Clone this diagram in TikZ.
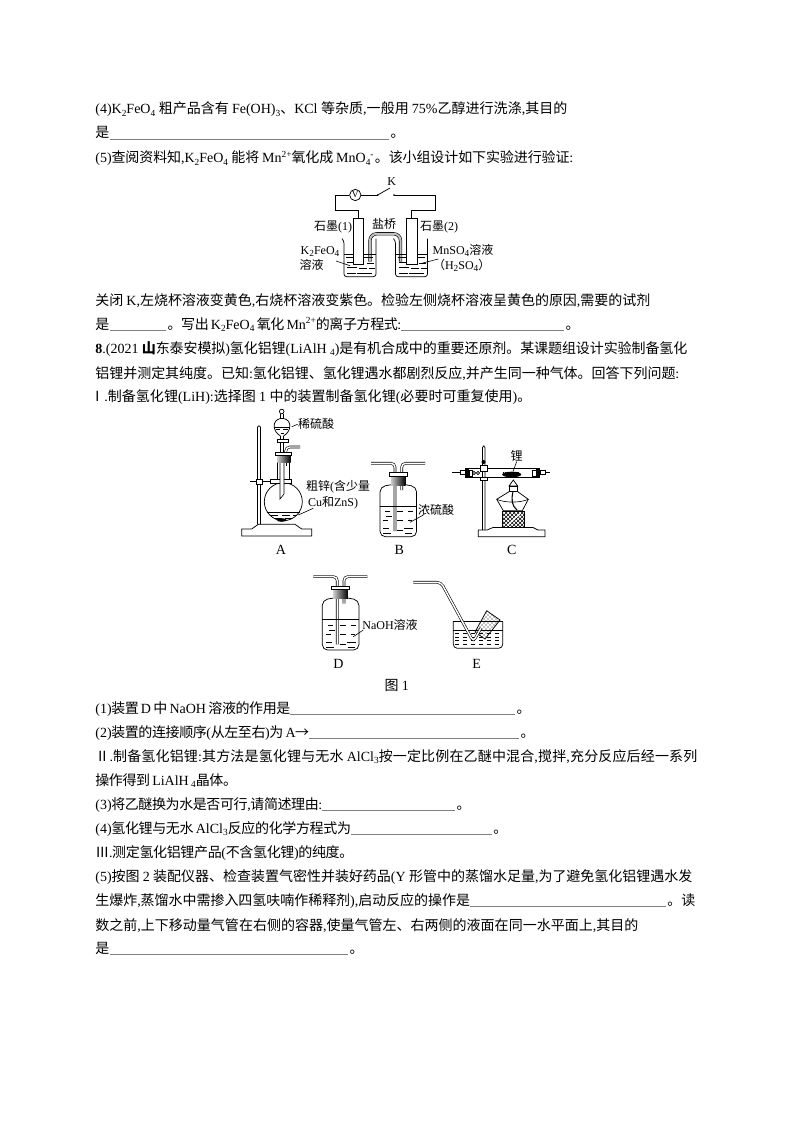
\documentclass[tikz,border=0pt]{standalone}
\usepackage{fontspec}
\usetikzlibrary{patterns}
\setmainfont{Liberation Serif}
\newfontfamily\lat{Liberation Serif}
\newfontfamily\cjk{Noto Sans CJK SC}
% switch font between latin and chinese characters
\XeTeXinterchartokenstate=1
\newXeTeXintercharclass\cjkclass
\count255="4E00
\loop\XeTeXcharclass\count255=\cjkclass\ifnum\count255<"9FFF\advance\count255 by 1\repeat
\count255="FF01
\loop\XeTeXcharclass\count255=\cjkclass\ifnum\count255<"FF5E\advance\count255 by 1\repeat
\XeTeXcharclass"3001=\cjkclass
\XeTeXcharclass"3002=\cjkclass
\XeTeXcharclass"2160=\cjkclass
\XeTeXcharclass"2161=\cjkclass
\XeTeXcharclass"2162=\cjkclass
\XeTeXcharclass"2192=\cjkclass
\XeTeXinterchartoks 0 \cjkclass={\cjk\hskip 0pt plus 1pt minus .3pt}
\XeTeXinterchartoks 4095 \cjkclass={\cjk}
\XeTeXinterchartoks \cjkclass 0={\lat\hskip 0pt plus 1pt minus .3pt}
\XeTeXinterchartoks \cjkclass \cjkclass={\hskip 0pt plus 1pt minus .3pt}
\XeTeXinterchartoks 4095 0={\lat}
\newcommand{\dn}[1]{\raisebox{-.35ex}{\fontsize{7}{8}\selectfont #1}}
\newcommand{\up}[1]{\raisebox{.8ex}{\fontsize{7}{8}\selectfont #1}}
\newcommand{\blank}[1]{\textcolor{gray}{\rule[-1.2pt]{\dimexpr #1pt*3/4\relax}{0.8pt}}}
\newcommand{\fit}[2]{\hbox to \dimexpr #1pt*3/4\relax{#2}}
\tikzset{
  txt/.style={anchor=base west,inner sep=0pt,font=\fontsize{10.5}{12}\selectfont},
  lab/.style={inner sep=0pt,font=\fontsize{9}{10}\selectfont},
  tag/.style={inner sep=0pt,font=\fontsize{10.5}{12}\selectfont},
  tube/.style={draw=black,double=white,double distance=1.1pt,line width=.45pt,rounded corners=3pt},
  stub/.style={draw=black,double=gray!50,double distance=1.5pt,line width=.45pt,rounded corners=3pt},
  thin line/.style={line width=.45pt},
  pics/beaker/.style={code={
    \draw[rounded corners=2pt] (-2,-38) -- (0,-36) -- (0,0) -- (32,0) -- (32,-38);
    \draw (0,-22.7) -- (32,-22.7);
    \foreach \a/\b/\y in {2/11/-19,20/29/-19,3/10/-14,12/19/-14,23/30/-13,3/13/-9,15/23/-8,25/31/-8,3/12/-3,13/28/-3}
      \draw[thin line] (\a,\y) -- (\b,\y);
  }},
  pics/washbottle/.style={code={
    \draw[tube] (-27.3,-73.4) -- (-3.3,-73.4) -- (-3.3,-5.7);
    \draw[tube] (26.7,-73.4) -- (3.4,-73.4) -- (3.4,-46.7);
    \draw[rounded corners=4pt] (-7,-52) -- (-18.3,-50) -- (-18.3,0) -- (18.3,0) -- (18.3,-50) -- (7,-52);
    \shade[left color=gray!40,right color=black] (-7.3,-61) rectangle (7.3,-51.7);
    \draw[fill=white,thin line] (-9,-64) rectangle (9,-60.7);
    \draw (-18.3,-30.7) -- (18.3,-30.7);
    \foreach \a/\b/\y in {-13/-8/-25,-1/5/-25,10/15/-25,-15/-10/-16,-1/5/-16,10/14/-16,-15/-9/-8,6/15/-8,-12/-6/-20,-1/5/-6,7/14/-3,-15/-7/-3}
      \draw[thin line] (\a,\y) -- (\b,\y);
  }}
}
\begin{document}
\begin{tikzpicture}[x=0.75pt,y=-0.75pt,line width=.55pt]
\useasboundingbox (0,0) rectangle (794,1123);
% text above the first figure
\node[txt] (line1) at (95,114) {\fit{472}{(4)K\dn{2}FeO\dn{4} 粗产品含有 Fe(OH)\dn{3}、KCl 等杂质,一般用 75\%乙醇进行洗涤,其目的}};
\node[txt] (line2) at (95,138) {\fit{302}{是\kern.7pt\blank{279}\kern1pt。}};
\node[txt] (line3) at (95,163) {\fit{478}{(5)查阅资料知,K\dn{2}FeO\dn{4} 能将 Mn\up{2+}氧化成 MnO\dn{4}\up{-}\kern1pt。该小组设计如下实验进行验证:}};
% cell with salt bridge
\coordinate (lefttop) at (358.7,218);
\coordinate (righttop) at (411.7,218);
\node[circle,draw,inner sep=0pt,minimum size=8.5pt,font=\fontsize{7}{8}\selectfont] (volt) at (355.3,195) {V};
\coordinate (swa) at (377.7,195);
\coordinate (swb) at (394,195);
\draw (volt) -- (335,195) -- (335,210) -- (358.7,210) -- (lefttop);
\draw (volt) -- (swa);
\draw (swa) -- (390,188);
\draw (swb) -- (435.7,195) -- (435.7,210) -- (411.7,210) -- (righttop);
\fill (swa) circle (.9) (swb) circle (.9);
\node[lab] (keyk) at (391.7,182) {K};
\draw[stub,rounded corners=5pt] (370,261.7) -- (370,233.8) -- (400.5,233.8) -- (400.5,261.7);
\pic at (344,276.7) {beaker};
\pic at (395.5,276.7) {beaker};
\draw[fill=white] (353,218.3) rectangle (363.5,264);
\draw[fill=white] (406.7,218.3) rectangle (417.3,264);
\node[lab] (gra1) at (333,227) {石墨(1)};
\node[lab] (brg) at (384,224) {盐桥};
\node[lab] (gra2) at (439,227) {石墨(2)};
\node[lab] (kfe) at (320,251.7) {K\dn{2}FeO\dn{4}};
\node[lab] (kfe2) at (311.7,265) {溶液};
\node[lab] (mns) at (463,250) {MnSO\dn{4}溶液};
\node[lab] (hso) at (461.7,265.7) {（H\dn{2}SO\dn{4}）};
\coordinate (kfeend) at (350,265.7);
\coordinate (mnsend) at (421.7,263.3);
\draw[thin line] (336,261) -- (kfeend);
\draw[thin line] (438.3,259) -- (mnsend);
% text above figure 1
\node[txt] (line4) at (95,305.5) {\fit{555}{关闭 K,左烧杯溶液变黄色,右烧杯溶液变紫色。检验左侧烧杯溶液呈黄色的原因,需要的试剂}};
\node[txt] (line5) at (95,329) {\fit{483}{是\kern.7pt\blank{56}\kern1pt。写出 K\dn{2}FeO\dn{4} 氧化 Mn\up{2+}的离子方程式:\blank{163}\kern1pt。}};
\node[txt] (line6) at (95,353.5) {\fit{592}{{\bfseries 8}.(2021 {\bfseries 山}东泰安模拟)氢化铝锂(LiAlH \dn{4})是有机合成中的重要还原剂。某课题组设计实验制备氢化}};
\node[txt] (line7) at (95,378) {\fit{584}{铝锂并测定其纯度。已知:氢化铝锂、氢化锂遇水都剧烈反应,并产生同一种气体。回答下列问题:}};
\node[txt] (line8) at (90,401.5) {\fit{441}{Ⅰ.制备氢化锂(LiH):选择图 1 中的装置制备氢化锂(必要时可重复使用)。}};
% apparatus A
\draw (241.7,536) -- (241.7,529) -- (251.7,529) -- (258.3,524.3) -- (295,524.3) -- (301.7,529) -- (311.7,529) -- (311.7,536) -- cycle;
\draw[rounded corners=1pt] (257.5,524.3) -- (257.5,425.7) -- (260.5,425.7) -- (260.5,524.3);
\draw (250,481.5) -- (256,481.5);
\draw[fill=white] (256,479) rectangle (262,484);
\draw (262,481.5) -- (270.7,481.5);
\draw (283.3,501.7) circle (19);
\fill[white] (277.6,481) rectangle (289,486);
\draw (277.3,483.5) -- (277.3,453.5) (289.3,453.5) -- (289.3,483.5);
\draw[fill=white] (270.7,479) rectangle (291.7,483.5);
\draw (266.5,512.3) -- (300.1,512.3);
\foreach \a/\b/\y in {270/278/515,282/290/515,293/297/515,274/281/518,285/292/518}
  \draw[thin line] (\a,\y) -- (\b,\y);
\fill (281.7,520) ellipse (5 and 1.8);
\draw[tube] (285.8,462) -- (285.8,447) -- (300,447);
\draw[thin line] (285.8,462) -- (285.8,466);
\draw[fill=white,thin line] (280,455) -- (280,499) -- (284,494) -- (284,455) -- cycle;
\shade[left color=gray!40,right color=black] (277.3,453.5) rectangle (290.7,462);
\draw[fill=white,thin line] (275,452) rectangle (291.7,455);
\draw[thin line] (280.5,452) -- (280.5,441) (283.5,452) -- (283.5,441);
\draw[fill=white,thin line] (277,439) rectangle (288,442);
\draw[thin line] (280.5,439) -- (280.5,436) (283.5,439) -- (283.5,436);
\draw (280.5,436) .. controls (272,431) and (272,420) .. (280.5,418.5) -- (283.5,418.5) .. controls (292,420) and (292,431) .. (283.5,436);
\draw[thin line] (274,427.5) -- (290,427.5);
\foreach \a/\b in {276/280,283/288}
  \draw[thin line] (\a,429.5) -- (\b,429.5);
\draw[thin line] (280.5,433) -- (284,433);
\draw (281.7,411.5) circle (2.3);
\draw[thin line] (280.5,414) -- (280.5,418.5) (283,414) -- (283,418.5);
\node[lab] (acid) at (316,424.3) {稀硫酸};
\draw[thin line] (291.7,426.7) -- (acid.west);
\node[lab] (zn1) at (338,487) {粗锌(含少量};
\node[lab] (zn2) at (333,503) {Cu和ZnS)};
\coordinate (znend) at (298.3,515);
\draw[thin line] (313.3,508.3) -- (znend);
\node[tag] (labA) at (281,550) {A};
% apparatus B
\pic at (398.3,536.7) {washbottle};
\node[lab] (sulf) at (436,510) {浓硫酸};
\coordinate (sulfend) at (410,522.3);
\draw[thin line] (423.3,515) -- (sulfend);
\node[tag] (labB) at (399.3,550) {B};
% apparatus C
\draw (478.3,536.7) -- (478.3,530) -- (487,530) -- (493,527.5) -- (533,527.5) -- (538,530) -- (545,530) -- (545,536.7) -- cycle;
\draw[rounded corners=1pt] (482.5,530) -- (482.5,446) -- (485,446) -- (485,530);
\draw (465,468.3) -- (540,468.3) (465,477.3) -- (540,477.3);
\fill (465,468) rectangle (469,478);
\draw[fill=white,thin line] (469,470) rectangle (472,476);
\draw[thin line] (452.3,472.5) -- (465,472.5);
\draw[fill=white] (460,470.5) rectangle (465,474.5);
\fill (536,468) rectangle (540,478);
\draw[fill=white,thin line] (532,470) rectangle (536,476);
\draw[thin line] (540,472.5) -- (550,472.5);
\draw[fill=white] (540,470.5) rectangle (545,474.5);
\draw[fill=white,thin line] (480.7,465) rectangle (487.7,471.5);
\fill (483.5,462) circle (2);
\draw[fill=white,thin line] (480.7,477.3) rectangle (487.7,480);
\draw[thin line] (474,473) circle (1.6) (478,473) circle (1.6);
\fill (511.7,474.5) ellipse (9.5 and 2.8);
\draw[thin line,densely dotted] (503,472) -- (520,472);
\coordinate (liend) at (513,471.5);
\node[lab] (li) at (516.7,455.7) {锂};
\draw[thin line] (li.south) -- (liend);
\draw (513.3,480) -- (509,486) -- (517.7,486) -- cycle;
\draw[fill=white] (509,486) rectangle (517.7,491.7);
\draw (509,491.7) -- (496.7,499.3) -- (503.3,510.7) -- (522.3,510.7) -- (528.3,499.3) -- (517.7,491.7);
\draw[thin line] (496.7,499.3) .. controls (505,503) and (520,503) .. (528.3,499.3);
\draw[line width=.8pt] (513,491.7) .. controls (511,500) and (512,506) .. (517,510);
\draw[pattern=crosshatch] (502.3,511.5) rectangle (524.3,527.5);
\draw[line width=1pt,white] (508,525) .. controls (513,520) and (516,517) .. (520,514);
\node[tag] (labC) at (511.7,550) {C};
% apparatus D
\pic at (340.6,650) {washbottle};
\node[lab] (naoh) at (390,625) {NaOH溶液};
\coordinate (naohend) at (353.3,636.7);
\draw[thin line] (363.3,630) -- (naohend);
\node[tag] (labD) at (338.3,664.3) {D};
% apparatus E
\draw[pattern=crosshatch dots] (486.7,610.7) -- (500,620) -- (485,639) -- (475,632) -- cycle;
\draw[rounded corners=3pt] (453.3,621.7) -- (453.3,648.3) -- (502.7,648.3) -- (502.7,621.7);
\draw (453.3,621.7) -- (502.7,621.7);
\draw (453.3,630) -- (502.7,630);
\foreach \y in {633.5,637,640.5,644.5}
  \draw[thin line,dashed] (455,\y) -- (501,\y);
\draw[tube] (413.3,582.3) -- (441,582.3) -- (473.3,641.7) -- (481,628);
\node[tag] (labE) at (476.7,664.3) {E};
\node[tag] (fig) at (396.7,685) {图 1};
% text below figure 1
\node[txt] (line9) at (95,713) {\fit{433}{(1)装置 D 中 NaOH 溶液的作用是\blank{225}\kern1pt。}};
\node[txt] (line10) at (95,737) {\fit{438}{(2)装置的连接顺序(从左至右)为 A→\blank{210}\kern1pt。}};
\node[txt] (line11) at (95,761.5) {\fit{602}{Ⅱ.制备氢化铝锂:其方法是氢化锂与无水 AlCl\dn{3}按一定比例在乙醚中混合,搅拌,充分反应后经一系列}};
\node[txt] (line12) at (95,785.5) {\fit{140}{操作得到 LiAlH \dn{4}晶体。}};
\node[txt] (line13) at (95,809) {\fit{374}{(3)将乙醚换为水是否可行,请简述理由:\blank{133}\kern1pt。}};
\node[txt] (line14) at (95,833.5) {\fit{412}{(4)氢化锂与无水 AlCl\dn{3}反应的化学方程式为\blank{141}\kern1pt。}};
\node[txt] (line15) at (95,857) {\fit{258}{Ⅲ.测定氢化铝锂产品(不含氢化锂)的纯度。}};
\node[txt] (line16) at (95,881.5) {\fit{597}{(5)按图 2 装配仪器、检查装置气密性并装好药品(Y 形管中的蒸馏水足量,为了避免氢化铝锂遇水发}};
\node[txt] (line17) at (95,905) {\fit{600}{生爆炸,蒸馏水中需掺入四氢呋喃作稀释剂),启动反应的操作是\blank{196}\kern1pt。读}};
\node[txt] (line18) at (95,930) {\fit{543}{数之前,上下移动量气管在右侧的容器,使量气管左、右两侧的液面在同一水平面上,其目的}};
\node[txt] (line19) at (95,953.5) {\fit{260}{是\kern.7pt\blank{238}\kern1pt。}};
\end{tikzpicture}
\end{document}
